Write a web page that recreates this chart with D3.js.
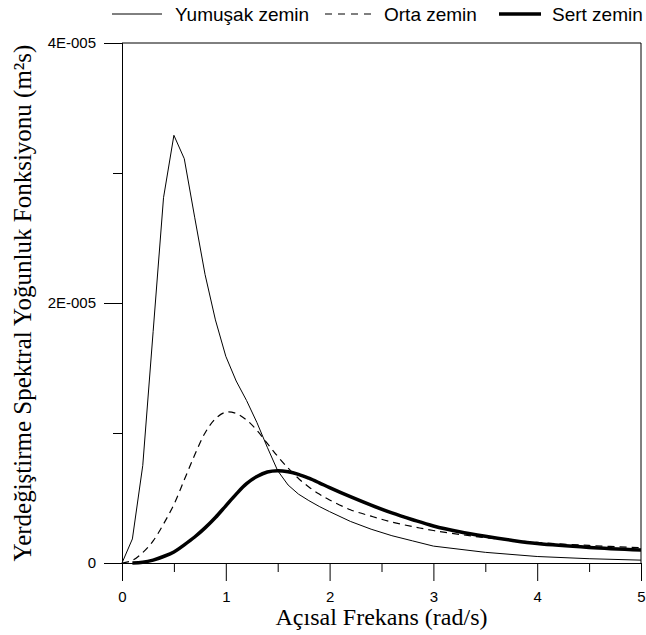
<!DOCTYPE html>
<html>
<head>
<meta charset="utf-8">
<script src="https://cdn.jsdelivr.net/npm/d3@7"></script>
<style>
  body { margin: 0; background: #fff; }
  svg { display: block; }
</style>
</head>
<body>
<div id="chart"></div>
<script>
'use strict';

// Yumuşak zemin (ince düz çizgi)
var softW = [0, 0.1, 0.2, 0.3, 0.4, 0.5, 0.6, 0.7, 0.8, 0.9, 1.0, 1.1, 1.2, 1.3, 1.4, 1.5, 1.6, 1.7, 1.8, 1.9, 2.0, 2.2, 2.4, 2.6, 2.8, 3.0, 3.5, 4.0, 4.5, 5.0];
var softS = [0, 1.85e-6, 7.5e-6, 1.78e-5, 2.81e-5, 3.29e-5, 3.11e-5, 2.66e-5, 2.22e-5, 1.87e-5, 1.59e-5, 1.40e-5, 1.25e-5, 1.08e-5, 8.9e-6, 7.1e-6, 6.0e-6, 5.3e-6, 4.8e-6, 4.35e-6, 3.95e-6, 3.2e-6, 2.6e-6, 2.1e-6, 1.7e-6, 1.3e-6, 0.82e-6, 0.5e-6, 0.33e-6, 0.22e-6];

// Orta zemin (kesikli)
var midW = [0, 0.1, 0.2, 0.3, 0.4, 0.5, 0.6, 0.7, 0.8, 0.9, 1.0, 1.1, 1.2, 1.3, 1.4, 1.5, 1.6, 1.7, 1.8, 1.9, 2.0, 2.2, 2.4, 2.6, 2.8, 3.0, 3.25, 3.5, 3.75, 4.0, 4.5, 5.0];
var midS = [0, 2e-7, 8e-7, 1.7e-6, 3.0e-6, 4.5e-6, 6.4e-6, 8.3e-6, 1.0e-5, 1.11e-5, 1.16e-5, 1.15e-5, 1.10e-5, 1.02e-5, 9.2e-6, 8.2e-6, 7.3e-6, 6.5e-6, 5.85e-6, 5.3e-6, 4.85e-6, 4.1e-6, 3.6e-6, 3.15e-6, 2.8e-6, 2.5e-6, 2.2e-6, 1.95e-6, 1.75e-6, 1.58e-6, 1.35e-6, 1.18e-6];

// Sert zemin (kalın)
var hardW = [0.1, 0.2, 0.3, 0.4, 0.5, 0.6, 0.7, 0.8, 0.9, 1.0, 1.1, 1.2, 1.3, 1.4, 1.5, 1.6, 1.7, 1.8, 1.9, 2.0, 2.2, 2.4, 2.6, 2.8, 3.0, 3.25, 3.5, 3.75, 4.0, 4.5, 5.0];
var hardS = [0, 5e-8, 2.2e-7, 5e-7, 8.5e-7, 1.4e-6, 2.0e-6, 2.7e-6, 3.5e-6, 4.4e-6, 5.3e-6, 6.1e-6, 6.65e-6, 7.0e-6, 7.1e-6, 7.02e-6, 6.82e-6, 6.52e-6, 6.17e-6, 5.8e-6, 5.1e-6, 4.45e-6, 3.85e-6, 3.33e-6, 2.85e-6, 2.4e-6, 2.05e-6, 1.75e-6, 1.5e-6, 1.2e-6, 1.0e-6];

var legendNames = ["Yumuşak zemin", "Orta zemin", "Sert zemin"];
var yTickVals = [0, 2e-5, 4e-5];
var yTickLabels = ["0", "2E-005", "4E-005"];
var xTickVals = [0, 1, 2, 3, 4, 5];

var width = 646, height = 635;
var m = { left: 122, right: 5, top: 43, bottom: 72 };

var svg = d3.select("#chart").append("svg")
    .attr("width", width)
    .attr("height", height);

var x = d3.scaleLinear().domain([0, 5]).range([m.left, width - m.right]);
var y = d3.scaleLinear().domain([0, 4e-5]).range([height - m.bottom, m.top]);

var sans = "'Liberation Sans', Arial, sans-serif";
var serif = "'Liberation Serif', 'Times New Roman', serif";

// çerçeve (üst ve sağ)
svg.append("path")
    .attr("d", "M" + x(0) + "," + y(4e-5) + "H" + x(5) + "V" + y(0))
    .attr("fill", "none")
    .attr("stroke", "#000")
    .attr("stroke-width", 1);

// x ekseni
var xAxis = svg.append("g")
    .attr("transform", "translate(0," + y(0) + ")")
    .call(d3.axisBottom(x).tickValues(xTickVals).tickFormat(d3.format("d")).tickSize(18).tickPadding(10));
xAxis.append("g")
    .call(d3.axisBottom(x).tickValues(d3.range(0.5, 5, 1)).tickFormat("").tickSize(9));

// y ekseni
var yAxis = svg.append("g")
    .attr("transform", "translate(" + x(0) + ",0)")
    .call(d3.axisLeft(y).tickValues(yTickVals).tickFormat(function (d, i) { return yTickLabels[i]; }).tickSize(18).tickPadding(8));
yAxis.append("g")
    .call(d3.axisLeft(y).tickValues([1e-5, 3e-5]).tickFormat("").tickSize(9));

svg.selectAll(".domain").attr("stroke", "#000");
svg.selectAll(".tick line").attr("stroke", "#000");
svg.selectAll(".tick text")
    .style("font-family", sans)
    .style("font-size", "15px")
    .attr("fill", "#000");

// eğriler
var lineSoft = d3.line()
    .x(function (d, i) { return x(softW[i]); })
    .y(function (d) { return y(d); });

var lineMid = d3.line()
    .x(function (d, i) { return x(midW[i]); })
    .y(function (d) { return y(d); })
    .curve(d3.curveCatmullRom.alpha(0.5));

var lineHard = d3.line()
    .x(function (d, i) { return x(hardW[i]); })
    .y(function (d) { return y(d); })
    .curve(d3.curveCatmullRom.alpha(0.5));

svg.append("path")
    .datum(softS)
    .attr("d", lineSoft)
    .attr("fill", "none")
    .attr("stroke", "#000")
    .attr("stroke-width", 1);

svg.append("path")
    .datum(midS)
    .attr("d", lineMid)
    .attr("fill", "none")
    .attr("stroke", "#000")
    .attr("stroke-width", 1.2)
    .attr("stroke-dasharray", "7,5");

svg.append("path")
    .datum(hardS)
    .attr("d", lineHard)
    .attr("fill", "none")
    .attr("stroke", "#000")
    .attr("stroke-width", 3.5);

// lejant
var legendStyles = [
    { w: 1, dash: null, x1: 112, x2: 162, tx: 175 },
    { w: 1.2, dash: "7,6", x1: 325, x2: 373, tx: 384 },
    { w: 3.5, dash: null, x1: 499, x2: 541, tx: 552 }
];
var legend = svg.append("g").attr("class", "legend");
legendNames.forEach(function (name, i) {
    var s = legendStyles[i];
    legend.append("line")
        .attr("x1", s.x1).attr("x2", s.x2)
        .attr("y1", 14).attr("y2", 14)
        .attr("stroke", "#000")
        .attr("stroke-width", s.w)
        .attr("stroke-dasharray", s.dash);
    legend.append("text")
        .attr("x", s.tx)
        .attr("y", 21)
        .style("font-family", sans)
        .style("font-size", "19px")
        .text(name);
});

// eksen başlıkları
svg.append("text")
    .attr("x", (x(0) + x(5)) / 2)
    .attr("y", 625)
    .attr("text-anchor", "middle")
    .style("font-family", serif)
    .style("font-size", "24px")
    .text("Açısal Frekans (rad/s)");

svg.append("text")
    .attr("transform", "translate(31," + (y(2e-5)) + ") rotate(-90)")
    .attr("text-anchor", "middle")
    .style("font-family", serif)
    .style("font-size", "25px")
    .text("Yerdeğiştirme Spektral Yoğunluk Fonksiyonu (m²s)");
</script>
</body>
</html>
